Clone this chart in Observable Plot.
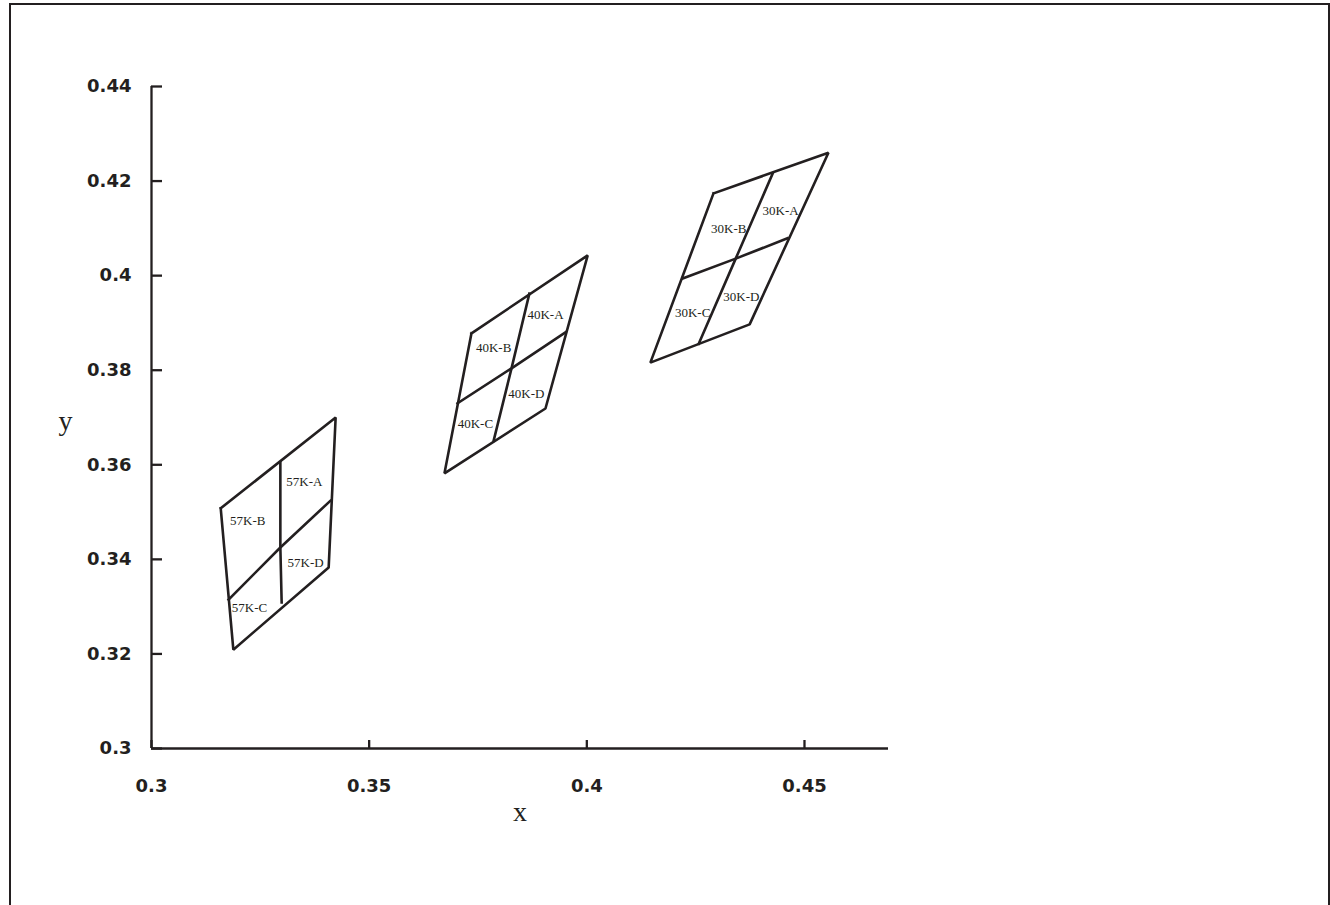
<!DOCTYPE html>
<html><head><meta charset="utf-8">
<script src="https://cdn.jsdelivr.net/npm/d3@7"></script>
<script src="https://cdn.jsdelivr.net/npm/@observablehq/plot@0.6"></script>
<style>
body{margin:0;background:#fff;}
#wrap{position:relative;width:1330px;height:905px;overflow:hidden;}
#frame{position:absolute;left:9px;top:3px;width:1317px;height:920px;border:2px solid #231f20;border-bottom:none;pointer-events:none;}
</style></head><body><div id="wrap"><div id="frame"></div></div>
<script>
// ---- data ----
const groups = ["57K", "40K", "30K"];
// outline of each bin (closed polygon)
const outline57K = [[0.3159,0.3508],[0.3423,0.3700],[0.3407,0.3383],[0.3188,0.3209],[0.3159,0.3508]];
const outline40K = [[0.3735,0.3878],[0.4002,0.4043],[0.3905,0.3719],[0.3673,0.3582],[0.3735,0.3878]];
const outline30K = [[0.4291,0.4174],[0.4555,0.4260],[0.4374,0.3897],[0.4146,0.3816],[0.4291,0.4174]];
// dividers (top-center-bottom, left-center-right)
const vdiv57K = [[0.3296,0.3605],[0.3296,0.3425],[0.3299,0.3309]];
const hdiv57K = [[0.3177,0.3315],[0.3296,0.3425],[0.3411,0.3524]];
const vdiv40K = [[0.3868,0.3962],[0.3827,0.3804],[0.3786,0.3651]];
const hdiv40K = [[0.3703,0.3730],[0.3827,0.3804],[0.3951,0.3880]];
const vdiv30K = [[0.4427,0.4216],[0.4342,0.4036],[0.4257,0.3856]];
const hdiv30K = [[0.4220,0.3994],[0.4342,0.4036],[0.4461,0.4079]];
// sub-bin labels
const labelNames = ["57K-A","57K-B","57K-C","57K-D","40K-A","40K-B","40K-C","40K-D","30K-A","30K-B","30K-C","30K-D"];
const labelX = [0.3351,0.3221,0.3225,0.3354,0.3905,0.3786,0.3744,0.3861,0.4445,0.4326,0.4243,0.4355];
const labelY = [0.3563,0.3482,0.3298,0.3393,0.3918,0.3848,0.3687,0.3751,0.4138,0.4100,0.3922,0.3956];
// axes
const xTicks = [0.3, 0.35, 0.4, 0.45];
const xTickLabels = ["0.3", "0.35", "0.4", "0.45"];
const yTicks = [0.3, 0.32, 0.34, 0.36, 0.38, 0.4, 0.42, 0.44];
const yTickLabels = ["0.3", "0.32", "0.34", "0.36", "0.38", "0.4", "0.42", "0.44"];
const xTitle = "x";
const yTitle = "y";

// ---- build table ----
const segs = [
  ["57K-outline", outline57K], ["57K-v", vdiv57K], ["57K-h", hdiv57K],
  ["40K-outline", outline40K], ["40K-v", vdiv40K], ["40K-h", hdiv40K],
  ["30K-outline", outline30K], ["30K-v", vdiv30K], ["30K-h", hdiv30K]
];
const lineRows = segs.flatMap(([id, pts]) => pts.map(([x, y]) => ({id, x, y})));
const labels = labelNames.map((name, i) => ({name, x: labelX[i], y: labelY[i]}));

const ink = "#231f20";
const xDomain = [0.3, 0.4693];
const yDomain = [0.3, 0.44];

const chart = Plot.plot({
  width: 1330,
  height: 905,
  marginLeft: 151,
  marginRight: 1330 - 888,
  marginTop: 86,
  marginBottom: 905 - 748,
  x: {domain: xDomain, axis: null},
  y: {domain: yDomain, axis: null},
  style: {background: "transparent", color: ink},
  marks: [
    // axis lines
    Plot.ruleY([yDomain[0]], {x1: xDomain[0], x2: xDomain[1], stroke: ink, strokeWidth: 2.3}),
    Plot.ruleX([xDomain[0]], {y1: yDomain[0], y2: yDomain[1], stroke: ink, strokeWidth: 2.3}),
    // inward ticks
    Plot.axisX(xTicks, {label: null, tickSize: 8, dy: -8, tickFormat: () => "", stroke: ink, strokeWidth: 2.3}),
    Plot.axisY(yTicks, {label: null, tickSize: 11, dx: 11, tickFormat: () => "", stroke: ink, strokeWidth: 2.3}),
    // tick labels
    Plot.axisX(xTicks, {label: null, tickSize: 0, tickPadding: 31, tickFormat: (d, i) => xTickLabels[i],
      fontSize: 18, fontWeight: "bold", fontFamily: "DejaVu Sans", fill: ink}),
    Plot.axisY(yTicks, {label: null, tickSize: 0, tickPadding: 20, tickFormat: (d, i) => yTickLabels[i],
      fontSize: 18, fontWeight: "bold", fontFamily: "DejaVu Sans", fill: ink}),
    // axis titles
    Plot.text([xTitle], {text: d => d, frameAnchor: "bottom", dy: 64, lineAnchor: "middle",
      fontSize: 28, fontFamily: "Liberation Serif", fill: ink}),
    Plot.text([yTitle], {text: d => d, frameAnchor: "left", dx: -93, dy: 4, lineAnchor: "middle",
      fontSize: 28, fontFamily: "Liberation Serif", fill: ink}),
    // bins
    Plot.line(lineRows, {x: "x", y: "y", z: "id", stroke: ink, strokeWidth: 2.6, strokeLinejoin: "miter", strokeLinecap: "square"}),
    Plot.text(labels, {x: "x", y: "y", text: "name", fontSize: 13, fontFamily: "Liberation Serif", fill: ink})
  ]
});
document.getElementById("wrap").prepend(chart);
</script>
</body></html>
